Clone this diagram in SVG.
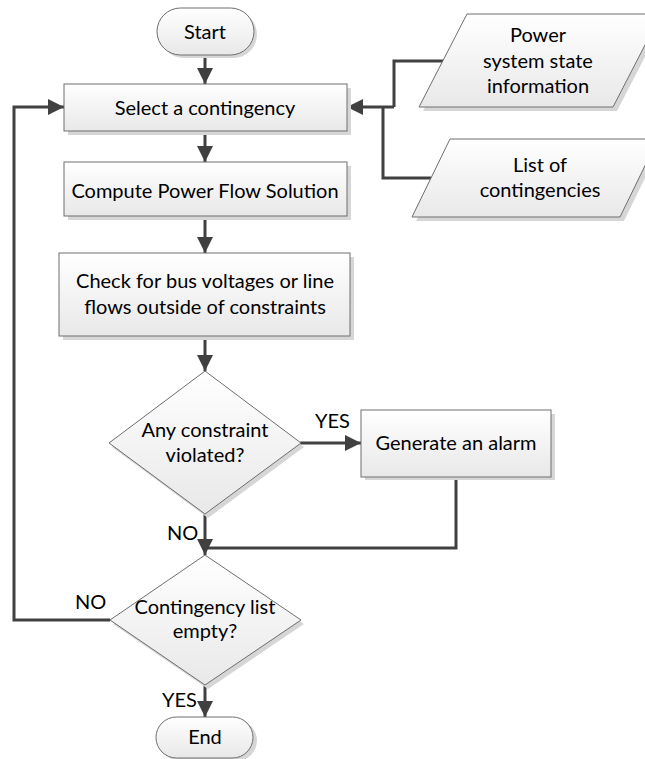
<svg xmlns="http://www.w3.org/2000/svg" width="645" height="759" viewBox="0 0 645 759">
  <defs>
    <linearGradient id="fillGrad" x1="0" y1="0" x2="0" y2="1">
      <stop offset="0" stop-color="#ffffff"/>
      <stop offset="1" stop-color="#e8e8e8"/>
    </linearGradient>
    <marker id="arrow" markerUnits="userSpaceOnUse" markerWidth="16" markerHeight="16" refX="16" refY="8" orient="auto">
      <path d="M0,0 L16,8 L0,16 Z" fill="#404040"/>
    </marker>
    <style>
      .shape { fill: url(#fillGrad); stroke: #6e6e6e; stroke-width: 1; }
      .shadow { fill: #d6d6d6; stroke: none; }
      .conn { fill: none; stroke: #404040; stroke-width: 3; }
      .arr { marker-end: url(#arrow); }
      text { font-family: Lato, "Liberation Sans", sans-serif; font-size: 20px; fill: #000; text-anchor: middle; }
      .lbl { text-anchor: start; }
    </style>
  </defs>

  <!-- connectors -->
  <g id="connectors">
    <line class="conn arr" x1="205" y1="55" x2="205" y2="84"/>
    <line class="conn arr" x1="205" y1="131" x2="205" y2="162"/>
    <line class="conn arr" x1="205" y1="216" x2="205" y2="253"/>
    <line class="conn arr" x1="205" y1="336" x2="205" y2="371"/>
    <line class="conn arr" x1="300" y1="443" x2="361" y2="443"/>
    <line class="conn arr" x1="205" y1="514" x2="205" y2="555"/>
    <polyline class="conn" points="456,477 456,548 205,548"/>
    <line class="conn arr" x1="205" y1="685" x2="205" y2="717"/>
    <polyline class="conn arr" points="110,620 14,620 14,107 64,107"/>
    <polyline class="conn" points="443,61 394,61 394,107"/>
    <polyline class="conn" points="431,178 383,178 383,107"/>
    <line class="conn arr" x1="394" y1="107" x2="347" y2="107"/>
  </g>

  <g id="start">
    <rect class="shadow" x="160" y="11" width="97" height="47" rx="23.5"/>
    <rect class="shape" x="157" y="8" width="97" height="47" rx="23.5"/>
    <text x="205" y="39">Start</text>
  </g>

  <g id="select-contingency">
    <rect class="shadow" x="68" y="88" width="283" height="47"/>
    <rect class="shape" x="64" y="84" width="283" height="47"/>
    <text x="205" y="115">Select a contingency</text>
  </g>

  <g id="compute-power-flow">
    <rect class="shadow" x="68" y="166" width="283" height="54"/>
    <rect class="shape" x="64" y="162" width="283" height="54"/>
    <text x="205" y="198">Compute Power Flow Solution</text>
  </g>

  <g id="check-constraints">
    <rect class="shadow" x="63" y="257" width="291" height="83"/>
    <rect class="shape" x="59" y="253" width="291" height="83"/>
    <text x="205" y="288">Check for bus voltages or line</text>
    <text x="205" y="314">flows outside of constraints</text>
  </g>

  <g id="constraint-violated">
    <polygon class="shadow" points="208,375 304,447 208,518 112,447"/>
    <polygon class="shape" points="205,371 301,443 205,514 109,443"/>
    <text x="205" y="437">Any constraint</text>
    <text x="205" y="462">violated?</text>
  </g>

  <g id="generate-alarm">
    <rect class="shadow" x="365" y="414" width="190" height="66"/>
    <rect class="shape" x="361" y="410" width="190" height="67"/>
    <text x="456" y="450">Generate an alarm</text>
  </g>

  <g id="list-empty">
    <polygon class="shadow" points="208,559 304,624 208,689 113,624"/>
    <polygon class="shape" points="205,555 301,620 205,685 110,620"/>
    <text x="205" y="614">Contingency list</text>
    <text x="205" y="638">empty?</text>
  </g>

  <g id="end">
    <rect class="shadow" x="160" y="720" width="97" height="41" rx="20.5"/>
    <rect class="shape" x="156" y="717" width="97" height="41" rx="20.5"/>
    <text x="205" y="744">End</text>
  </g>

  <g id="system-state">
    <polygon class="shadow" points="471,18 665,18 617,111 423,111"/>
    <polygon class="shape" points="467,14 661,14 613,107 419,107"/>
    <text x="538" y="42">Power</text>
    <text x="538" y="68">system state</text>
    <text x="538" y="93">information</text>
  </g>

  <g id="contingency-list">
    <polygon class="shadow" points="454,143 662,143 624,221 416,221"/>
    <polygon class="shape" points="450,139 658,139 620,217 412,217"/>
    <text x="540" y="172">List of</text>
    <text x="540" y="197">contingencies</text>
  </g>

  <g id="labels">
    <text class="lbl" x="315" y="428">YES</text>
    <text class="lbl" x="167" y="540">NO</text>
    <text class="lbl" x="75" y="609">NO</text>
    <text class="lbl" x="162" y="707">YES</text>
  </g>
</svg>
